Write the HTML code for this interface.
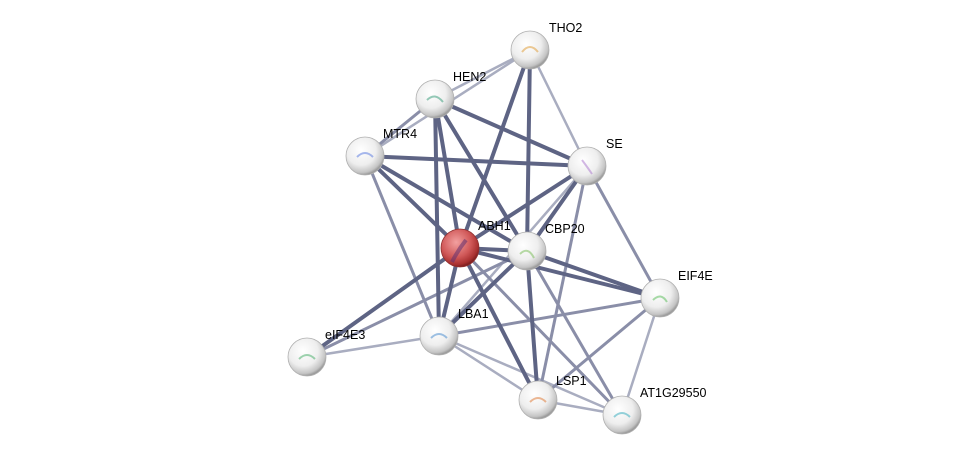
<!DOCTYPE html>
<html><head><style>
html,body{margin:0;padding:0;background:#fff;width:976px;height:460px;overflow:hidden}
text{font-family:"Liberation Sans",sans-serif;font-size:12.5px;fill:#000}
</style></head><body>
<svg width="976" height="460" viewBox="0 0 976 460">
<defs>
<radialGradient id="g" cx="40%" cy="35%" r="65%">
<stop offset="0" stop-color="#ffffff"/><stop offset="0.6" stop-color="#eeeeee"/><stop offset="0.9" stop-color="#c4c4c4"/><stop offset="1" stop-color="#9a9a9a"/></radialGradient>
<radialGradient id="r" cx="40%" cy="35%" r="65%">
<stop offset="0" stop-color="#f2a0a0"/><stop offset="0.6" stop-color="#d05858"/><stop offset="0.9" stop-color="#a83030"/><stop offset="1" stop-color="#802020"/></radialGradient>
</defs>
<g stroke-linecap="round">
<g stroke="#a9adc0" stroke-width="2.5">
<line x1="530" y1="50" x2="435" y2="99"/><line x1="530" y1="50" x2="365" y2="156"/>
<line x1="530" y1="50" x2="587" y2="166"/>
<line x1="587" y1="166" x2="439" y2="336"/>
<line x1="660" y1="298" x2="622" y2="415"/>
<line x1="439" y1="336" x2="307" y2="357"/>
<line x1="439" y1="336" x2="538" y2="400"/>
<line x1="439" y1="336" x2="622" y2="415"/>
<line x1="538" y1="400" x2="622" y2="415"/>
</g>
<g stroke="#8a8ea8" stroke-width="3">
<line x1="435" y1="99" x2="365" y2="156"/>
<line x1="365" y1="156" x2="439" y2="336"/>
<line x1="587" y1="166" x2="660" y2="298"/>
<line x1="587" y1="166" x2="538" y2="400"/>
<line x1="527" y1="251" x2="307" y2="357"/>
<line x1="527" y1="251" x2="622" y2="415"/>
<line x1="660" y1="298" x2="439" y2="336"/>
<line x1="660" y1="298" x2="538" y2="400"/>
<line x1="460" y1="248" x2="622" y2="415"/>
</g>
<g stroke="#5e6484" stroke-width="4">
<line x1="530" y1="50" x2="460" y2="248"/><line x1="530" y1="50" x2="527" y2="251"/>
<line x1="435" y1="99" x2="587" y2="166"/><line x1="435" y1="99" x2="527" y2="251"/>
<line x1="435" y1="99" x2="460" y2="248"/><line x1="435" y1="99" x2="439" y2="336"/>
<line x1="365" y1="156" x2="587" y2="166"/><line x1="365" y1="156" x2="460" y2="248"/>
<line x1="365" y1="156" x2="527" y2="251"/>
<line x1="587" y1="166" x2="460" y2="248"/><line x1="587" y1="166" x2="527" y2="251"/>
<line x1="460" y1="248" x2="527" y2="251"/><line x1="460" y1="248" x2="660" y2="298"/>
<line x1="460" y1="248" x2="439" y2="336"/><line x1="460" y1="248" x2="307" y2="357"/>
<line x1="460" y1="248" x2="538" y2="400"/>
<line x1="527" y1="251" x2="660" y2="298"/><line x1="527" y1="251" x2="439" y2="336"/>
<line x1="527" y1="251" x2="538" y2="400"/>
</g>
</g>
<g stroke="#b0b0b0" stroke-width="0.8">
<circle cx="530" cy="50" r="19" fill="url(#g)"/>
<circle cx="435" cy="99" r="19" fill="url(#g)"/>
<circle cx="365" cy="156" r="19" fill="url(#g)"/>
<circle cx="587" cy="166" r="19" fill="url(#g)"/>
<circle cx="460" cy="248" r="19" fill="url(#r)" stroke="#903030"/>
<circle cx="527" cy="251" r="19" fill="url(#g)"/>
<circle cx="660" cy="298" r="19" fill="url(#g)"/>
<circle cx="439" cy="336" r="19" fill="url(#g)"/>
<circle cx="307" cy="357" r="19" fill="url(#g)"/>
<circle cx="538" cy="400" r="19" fill="url(#g)"/>
<circle cx="622" cy="415" r="19" fill="url(#g)"/>
</g>
<g opacity="0.55" fill="none" stroke-width="2">
<path d="M522 52 q8-10 16 0" stroke="#e0a040"/><path d="M427 100 q8-8 16 2" stroke="#40a080"/>
<path d="M357 157 q8-8 16 0" stroke="#6080e0"/><path d="M582 160 q6 8 10 14" stroke="#b080d0"/>
<path d="M452 262 q6-12 14-22" stroke="#603070" stroke-width="4"/><path d="M520 254 q8-8 14 4" stroke="#80c060"/>
<path d="M653 300 q8-8 14 2" stroke="#60c060"/><path d="M431 338 q8-8 16 0" stroke="#5090d0"/>
<path d="M299 359 q8-8 16 0" stroke="#50b070"/><path d="M530 402 q8-8 16 0" stroke="#e08040"/>
<path d="M614 417 q8-8 16 0" stroke="#40b0c0"/>
</g>
<text x="549" y="32">THO2</text>
<text x="453" y="81">HEN2</text>
<text x="383" y="138">MTR4</text>
<text x="606" y="148">SE</text>
<text x="478" y="230">ABH1</text>
<text x="545" y="233">CBP20</text>
<text x="678" y="280">EIF4E</text>
<text x="458" y="318">LBA1</text>
<text x="325" y="339">eIF4E3</text>
<text x="556" y="385">LSP1</text>
<text x="640" y="397">AT1G29550</text>
</svg>
</body></html>
